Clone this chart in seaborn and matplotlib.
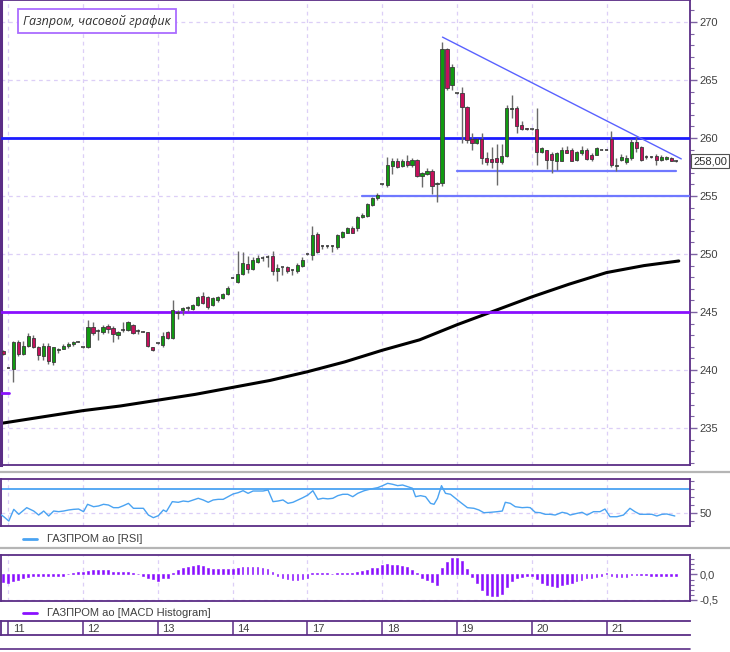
import numpy as np
import pandas as pd
import matplotlib
matplotlib.use("Agg")
import matplotlib.pyplot as plt
from matplotlib.lines import Line2D
from matplotlib.ticker import MultipleLocator, FixedLocator
import seaborn as sns

# ---------------- data ----------------
first_bar = -1          # index of the first hourly bar (last bar of the previous day)
bars_per_day = 15
day_labels = ["11", "12", "13", "14", "17", "18", "19", "20", "21"]

opens = [241.6, 240.2, 240.1, 242.4, 241.4, 242.1, 242.8, 242.0, 241.2, 242.1, 240.65, 241.7, 241.8, 242.1, 242.2, 242.45,
         241.95, 242.0, 243.7, 243.3, 243.25, 243.8, 243.6, 243.0, 243.4, 243.45, 243.9, 243.3, 243.3, 243.3, 242.0,
         242.3, 242.15, 243.3, 242.75, 245.0, 245.15, 245.3, 245.25, 245.6, 246.4, 246.3, 245.6, 246.0, 246.2, 246.55,
         247.95, 247.6, 248.3, 249.1, 248.75, 249.35, 249.6, 249.7, 249.8, 248.5, 248.8, 248.9, 248.55, 248.5, 248.95,
         249.97, 249.9, 251.7, 250.6, 250.65, 250.65, 250.6, 251.5, 251.85, 252.25, 252.25, 253.15, 253.3, 254.2, 254.8,
         256.0, 255.95, 257.6, 258.0, 257.55, 258.0, 257.7, 258.1, 256.7, 256.9, 257.2, 256.0, 256.1, 267.7, 264.55,
         263.85, 263.85, 262.7, 259.9, 259.55, 259.95, 258.25, 258.15, 258.25, 257.9, 258.45, 262.5, 262.55, 261.1, 260.85,
         260.75, 260.75, 258.8, 258.95, 258.6, 258.05, 258.05, 259.0, 258.95, 258.1, 258.7, 258.95, 258.55, 258.55, 259.0,
         259.0, 259.95, 257.6, 258.1, 257.9, 258.25, 259.7, 259.2, 258.35, 258.35, 258.45, 258.1, 258.15, 258.3, 258.0]
highs = [241.7, 240.25, 242.5, 242.6, 242.5, 243.2, 243.0, 242.1, 242.3, 242.3, 242.0, 241.9, 242.2, 242.4, 242.5, 242.5,
         242.0, 244.3, 244.1, 243.5, 243.9, 244.0, 243.8, 243.4, 244.1, 244.2, 244.0, 243.5, 243.35, 243.3, 242.0,
         242.35, 243.3, 243.4, 246.0, 245.2, 245.45, 245.5, 245.7, 246.4, 246.75, 246.4, 246.3, 246.4, 246.6, 247.2,
         248.0, 250.3, 250.2, 249.8, 249.7, 249.9, 249.8, 249.9, 250.3, 249.1, 248.9, 249.0, 248.7, 249.2, 249.7,
         250.0, 252.4, 251.9, 250.8, 250.8, 250.75, 251.7, 252.0, 252.3, 252.4, 253.3, 253.5, 254.4, 254.9, 255.3,
         256.05, 258.4, 258.3, 258.3, 258.2, 258.5, 258.3, 258.2, 257.1, 257.4, 257.3, 256.2, 268.3, 267.8, 266.4,
         263.9, 264.4, 262.8, 260.4, 260.0, 260.45, 258.8, 259.25, 259.5, 259.5, 262.85, 263.7, 262.8, 261.5, 260.9,
         260.8, 262.6, 259.2, 259.0, 258.8, 258.8, 259.2, 259.3, 259.1, 258.9, 259.35, 259.1, 258.7, 259.2, 259.05,
         259.05, 260.6, 258.3, 258.6, 258.5, 259.9, 260.1, 259.3, 258.5, 258.45, 258.6, 258.5, 258.45, 258.4, 258.1]
lows = [241.3, 240.15, 239.0, 241.2, 241.3, 242.0, 241.9, 240.9, 240.9, 240.5, 240.4, 241.5, 241.8, 241.9, 242.1, 242.4,
        241.9, 241.9, 243.0, 242.6, 243.1, 243.2, 242.4, 242.7, 243.3, 243.4, 243.1, 243.1, 243.25, 242.0, 241.6,
        242.25, 242.0, 242.7, 242.7, 244.4, 244.7, 245.1, 245.2, 245.5, 245.7, 245.3, 245.5, 245.9, 246.1, 246.5,
        247.9, 247.5, 248.2, 248.4, 248.6, 249.2, 249.4, 248.85, 248.2, 247.7, 248.2, 248.4, 248.2, 248.4, 248.9,
        249.9, 249.5, 250.1, 250.4, 250.5, 250.2, 250.4, 251.4, 251.8, 251.8, 252.0, 253.1, 253.2, 254.1, 254.7,
        255.95, 255.8, 256.9, 257.4, 257.5, 257.5, 257.5, 256.6, 255.8, 256.8, 255.2, 254.5, 255.9, 264.1, 264.1,
        263.8, 259.55, 259.6, 258.95, 259.5, 257.8, 257.7, 257.4, 255.95, 257.8, 258.4, 261.7, 260.4, 260.7, 260.7,
        260.7, 257.7, 258.7, 257.3, 256.95, 257.25, 258.0, 258.7, 258.0, 258.0, 258.5, 258.1, 258.0, 258.5, 258.95,
        258.95, 257.5, 257.2, 258.0, 257.8, 258.1, 258.8, 258.0, 258.2, 258.25, 257.65, 258.0, 258.1, 258.0, 257.95]
closes = [241.4, 240.2, 242.4, 241.4, 242.1, 242.9, 242.0, 241.3, 242.1, 240.75, 242.0, 241.8, 242.1, 242.2, 242.4, 242.45,
          241.95, 243.7, 243.2, 243.35, 243.7, 243.5, 243.1, 243.3, 243.45, 244.1, 243.2, 243.35, 243.3, 242.1, 241.75,
          242.3, 242.9, 242.75, 245.2, 244.9, 245.35, 245.35, 245.6, 246.3, 245.75, 245.45, 246.2, 246.3, 246.55, 247.1,
          247.95, 248.3, 249.2, 248.75, 249.5, 249.65, 249.65, 249.75, 248.5, 248.8, 248.85, 248.5, 248.6, 249.05, 249.5,
          249.97, 251.6, 250.2, 250.65, 250.7, 250.7, 251.6, 251.9, 252.2, 251.85, 253.2, 253.4, 254.3, 254.85, 255.1,
          256.0, 257.7, 258.0, 257.5, 258.0, 257.7, 258.1, 256.7, 257.0, 257.2, 255.9, 256.1, 267.7, 264.3, 266.15,
          263.85, 262.65, 259.8, 259.55, 259.9, 258.25, 257.9, 257.9, 257.9, 258.45, 262.55, 262.6, 261.05, 260.8, 260.75,
          260.75, 258.8, 259.1, 258.1, 258.1, 258.7, 259.0, 258.75, 258.05, 258.8, 259.0, 258.15, 258.15, 259.15, 259.0,
          259.0, 257.65, 257.7, 258.4, 258.3, 259.7, 259.1, 258.1, 258.4, 258.4, 258.1, 258.4, 258.35, 258.05, 258.0]

# long moving average (black line), read at bar positions
sma_idx = [-1.46, 7.5, 15, 22.5, 30, 37.5, 45, 52.5, 60, 67.5, 75, 82.5, 90, 97.5, 105, 112.5, 120, 127.5, 134.5]
sma_val = [235.4, 236.0, 236.5, 236.9, 237.4, 237.9, 238.5, 239.1, 239.85, 240.7, 241.7, 242.6, 243.9, 245.1, 246.3,
           247.4, 248.4, 249.0, 249.4]

# RSI line vertices (bar position, value)
rsi_idx = [-1.6, -0.9, 0.1, 1.1, 2.1, 3.7, 5.1, 6.1, 7.1, 8.1, 9.1, 10.1, 11.1, 12.1, 13.1, 14.1, 15.1, 15.9, 17.1,
           18.1, 19.1, 20.1, 21.1, 22.1, 23.1, 24.1, 25.1, 26.1, 27.1, 28.1, 29.1, 30.1, 31.1, 31.7, 32.9, 34.1, 35.1,
           36.1, 37.1, 38.1, 39.1, 40.1, 41.1, 42.1, 43.1, 44.1, 45.1, 46.1, 47.1, 48.1, 49.1, 50.1, 51.1, 52.1, 53.1,
           54.1, 55.1, 56.1, 57.1, 58.1, 59.1, 60.1, 61.1, 62.1, 63.1, 64.1, 65.1, 66.1, 67.1, 68.1, 69.1, 70.1, 71.4,
           72.7, 74.1, 75.1, 76.1, 77.1, 78.1, 79.1, 80.1, 81.1, 81.7, 82.7, 83.7, 84.7, 85.4, 86.1, 86.9, 87.7, 88.7,
           89.7, 90.7, 92.1, 93.4, 94.4, 95.4, 96.7, 98.1, 99.1, 99.7, 100.7, 101.7, 103.1, 104.1, 104.7, 105.7, 106.7,
           107.7, 108.7, 109.7, 111.1, 112.1, 112.7, 114.1, 115.1, 116.1, 117.4, 118.7, 119.7, 120.7, 122.1, 123.4,
           124.7, 125.7, 126.7, 128.1, 129.1, 130.1, 131.1, 132.1, 133.7]
rsi_val = [48.0, 45.0, 39.6, 54.2, 48.0, 56.3, 52.1, 47.1, 52.1, 45.9, 52.1, 51.3, 52.1, 53.4, 54.2, 54.6, 51.3, 60.5, 57.5,
           58.4, 60.5, 59.6, 56.3, 56.3, 58.8, 61.7, 55.5, 55.5, 55.5, 47.1, 43.8, 46.3, 53.4, 51.3, 63.8, 63.0, 64.6,
           63.8, 65.9, 68.0, 65.9, 63.0, 65.9, 66.7, 66.7, 70.0, 73.4, 75.0, 77.5, 74.2, 77.1, 77.1, 77.1, 78.4, 63.8,
           64.6, 65.9, 61.7, 63.0, 65.9, 68.8, 72.1, 77.5, 66.7, 68.0, 67.3, 68.0, 71.3, 73.0, 73.0, 70.0, 74.2, 77.5,
           79.6, 81.3, 83.8, 86.7, 85.5, 83.8, 84.6, 82.5, 80.5, 70.0, 71.3, 70.0, 61.7, 60.5, 68.0, 83.8, 74.2, 73.0,
           68.0, 63.0, 56.3, 55.5, 53.4, 50.0, 50.5, 51.3, 52.1, 63.0, 61.7, 57.5, 56.3, 56.7, 56.3, 50.5, 50.0,
           48.0, 48.0, 47.1, 50.5, 49.2, 47.1, 49.2, 50.5, 47.1, 51.3, 51.3, 54.6, 45.0, 45.0, 47.1,
           55.5, 51.3, 48.0, 48.0, 48.0, 45.9, 48.0, 48.4, 45.9]
rsi_level = 80

# MACD histogram, one value per bar
macd_hist = [-0.14, -0.17, -0.12, -0.10, -0.07, -0.04, -0.03, -0.03, -0.03, -0.03, -0.03, -0.02, -0.02, 0.01, 0.03, 0.04,
             0.04, 0.07, 0.09, 0.09, 0.09, 0.08, 0.05, 0.04, 0.04, 0.04, 0.02, 0.01, -0.03, -0.06, -0.08,
             -0.12, -0.07, -0.06, 0.02, 0.08, 0.12, 0.15, 0.16, 0.18, 0.16, 0.13, 0.10, 0.10, 0.10, 0.10,
             0.10, 0.13, 0.15, 0.15, 0.15, 0.15, 0.13, 0.10, 0.05, -0.03, -0.06, -0.09, -0.11, -0.10, -0.09,
             -0.06, 0.02, 0.02, 0.02, 0.02, 0.01, 0.02, 0.02, 0.03, 0.03, 0.04, 0.06, 0.09, 0.12, 0.12,
             0.18, 0.21, 0.19, 0.18, 0.16, 0.14, 0.08, 0.02, -0.07, -0.10, -0.15, -0.20, 0.12, 0.24, 0.32,
             0.32, 0.26, 0.10, -0.05, -0.17, -0.30, -0.40, -0.42, -0.42, -0.38, -0.24, -0.12, -0.07, -0.04, -0.02,
             -0.03, -0.09, -0.17, -0.20, -0.22, -0.24, -0.20, -0.18, -0.17, -0.12, -0.10, -0.07, -0.06, -0.04, -0.02,
             0.02, -0.03, -0.04, -0.04, -0.04, -0.01, -0.01, -0.01, -0.01, -0.02, -0.02, -0.02, -0.02, -0.02, -0.03]

# drawn levels / trend lines (price values and bar positions)
level_resist = 260.0
level_support = 245.0
level_255 = 255.0
level_255_start = 70.9
level_low = 257.2
level_low_span = [90.0, 133.9]
trend_idx = [87.1, 135.0]
trend_val = [268.7, 258.2]
marker_val = 238.0
marker_span = [-1.46, 0.2]

title_text = "Газпром, часовой график"
rsi_legend = "ГАЗПРОМ ао [RSI]"
macd_legend = "ГАЗПРОМ ао [MACD Histogram]"

# ---------------- styling ----------------
sns.set_style("white")
plt.rcParams["font.family"] = ["Liberation Sans", "DejaVu Sans"]

W, H = 730, 652
fig = plt.figure(figsize=(W / 100, H / 100), dpi=100)
fig.patch.set_facecolor("white")


def rect(x0, y0, x1, y1):
    return [x0 / W, 1 - y1 / H, (x1 - x0) / W, (y1 - y0) / H]


SPINE = "#5b2d86"
GRID = "#dccff7"
TXT = "#404040"
GREEN = "#119a11"
RED = "#c4105c"
VIOLET = "#8a10ff"
RSI_C = "#4aa3f2"

ax = fig.add_axes(rect(1, 0, 690, 465))
ax_rsi = fig.add_axes(rect(1, 479, 690, 526))
ax_macd = fig.add_axes(rect(1, 555, 690, 601))
ax_x = fig.add_axes(rect(1, 621, 690, 635))

n = len(closes)
xi = np.arange(first_bar, first_bar + n)
xmin, xmax = -1.464, 136.75
day_pos = [k * bars_per_day for k in range(len(day_labels))]

for a in (ax, ax_rsi, ax_macd, ax_x):
    a.set_xlim(xmin, xmax)
    a.set_facecolor("white")
    for s in a.spines.values():
        s.set_color(SPINE)
        s.set_linewidth(1.3)
    a.set_xticks([])
ax.spines["left"].set_linewidth(2.2)

# ---------------- main price panel ----------------
ax.set_ylim(231.81, 271.90)
for d in day_pos:
    for a in (ax, ax_rsi, ax_macd):
        a.axvline(d, color=GRID, lw=0.9, ls=(0, (3, 3)), zorder=0)
for lv in range(235, 271, 5):
    ax.axhline(lv, color=GRID, lw=0.9, ls=(0, (3, 3)), zorder=0)

df = pd.DataFrame({"x": xi, "o": opens, "h": highs, "l": lows, "c": closes})
sns.lineplot(x=sma_idx, y=sma_val, ax=ax, color="black", lw=2.2, estimator=None, zorder=2)

ax.axhline(level_resist, color="#1c1cff", lw=2.0, zorder=3)
ax.axhline(level_support, color=VIOLET, lw=2.0, zorder=3)
ax.plot([level_255_start, xmax - 0.3], [level_255, level_255], color="#6f78ff", lw=1.6, zorder=3)
ax.plot(level_low_span, [level_low, level_low], color="#6f78ff", lw=1.6, zorder=3)
ax.plot(trend_idx, trend_val, color="#5a62ff", lw=1.0, zorder=3)
ax.plot(marker_span, [marker_val, marker_val], color=VIOLET, lw=2.0, zorder=3)

ax.vlines(df["x"], df["l"], df["h"], color="#6a6a6a", lw=1.0, zorder=4)
body_lo = np.minimum(df["o"], df["c"])
body_h = np.abs(df["c"] - df["o"])
up = df["c"] >= df["o"]
big = body_h >= 0.06
colors = np.where(up, GREEN, RED)
ax.bar(df["x"][big], body_h[big], bottom=body_lo[big], width=0.64, color=colors[big],
       edgecolor="#3a3a3a", linewidth=0.6, zorder=5)
small = ~big
ax.hlines(df["c"][small], df["x"][small] - 0.36, df["x"][small] + 0.36, color="#303030", lw=1.1, zorder=5)

ax.yaxis.tick_right()
ax.yaxis.set_major_locator(MultipleLocator(5))
ax.yaxis.set_minor_locator(MultipleLocator(1))
ax.tick_params(axis="y", which="major", length=5, width=1, color="#7d62a3", labelsize=8, labelcolor=TXT, pad=2)
ax.tick_params(axis="y", which="minor", length=3, width=0.8, color="#7d62a3")
ax.set_ylabel("")
ax.set_xlabel("")

last = closes[-1]
ax.text(1.0045, last, f"{last:.2f}".replace(".", ","), transform=ax.get_yaxis_transform(),
        ha="left", va="center", fontsize=8, color="#303030", clip_on=False, zorder=10,
        bbox=dict(boxstyle="square,pad=0.18", fc="white", ec="#505050", lw=0.8))

fig.text(23 / W, 1 - 21 / H, title_text, fontsize=9, style="italic", color="#333333",
         family=["Open Sans", "DejaVu Sans"], ha="left", va="center",
         bbox=dict(boxstyle="square,pad=0.42", fc="white", ec="#aa6cff", lw=1.3))

# ---------------- RSI panel ----------------
ax_rsi.set_ylim(33.4, 92.1)
ax_rsi.axhline(50, color=GRID, lw=0.9, ls=(0, (3, 3)), zorder=0)
ax_rsi.axhline(rsi_level, color=RSI_C, lw=1.3, zorder=2)
sns.lineplot(x=rsi_idx, y=rsi_val, ax=ax_rsi, color=RSI_C, lw=1.0, estimator=None, zorder=3)
ax_rsi.yaxis.tick_right()
ax_rsi.yaxis.set_major_locator(FixedLocator([50]))
ax_rsi.yaxis.set_minor_locator(FixedLocator([40, 60, 70, 80, 90]))
ax_rsi.tick_params(axis="y", which="major", length=5, width=1, color="#7d62a3", labelsize=8, labelcolor=TXT, pad=2)
ax_rsi.tick_params(axis="y", which="minor", length=3, width=0.8, color="#7d62a3")
ax_rsi.set_ylabel("")
ax_rsi.set_xlabel("")

# ---------------- MACD panel ----------------
ax_macd.set_ylim(-0.52, 0.382)
ax_macd.axhline(-0.5, color=GRID, lw=0.9, ls=(0, (3, 3)), zorder=0)
ax_macd.bar(xi, macd_hist, width=0.36, color=VIOLET, edgecolor=VIOLET, linewidth=0.4, zorder=3)
ax_macd.yaxis.tick_right()
ax_macd.yaxis.set_major_locator(FixedLocator([-0.5, 0.0]))
ax_macd.yaxis.set_minor_locator(MultipleLocator(0.1))
ax_macd.set_yticklabels(["-0,5", "0,0"])
ax_macd.tick_params(axis="y", which="major", length=5, width=1, color="#7d62a3", labelsize=8, labelcolor=TXT, pad=2)
ax_macd.tick_params(axis="y", which="minor", length=3, width=0.8, color="#7d62a3")

# ---------------- x strip ----------------
ax_x.set_ylim(0, 1)
ax_x.set_yticks([])
ax_x.spines["right"].set_visible(False)
ax_x.vlines(day_pos, 0, 1, color=SPINE, lw=1.1)
for d, lab in zip(day_pos, day_labels):
    ax_x.text(d + 0.9, 0.45, lab, ha="left", va="center", fontsize=8, color=TXT)

# ---------------- legends & separators ----------------
fig.add_artist(Line2D([23 / W, 37 / W], [1 - 539 / H] * 2, color=RSI_C, lw=2, transform=fig.transFigure))
fig.text(47 / W, 1 - 539 / H, rsi_legend, fontsize=8, color=TXT, ha="left", va="center")
fig.add_artist(Line2D([23 / W, 37 / W], [1 - 612.5 / H] * 2, color=VIOLET, lw=2, transform=fig.transFigure))
fig.text(47 / W, 1 - 612.5 / H, macd_legend, fontsize=8, color=TXT, ha="left", va="center")

for yy in (472, 548):
    fig.add_artist(Line2D([0, 1], [1 - yy / H] * 2, color="#b5b5b5", lw=1.6, transform=fig.transFigure))
fig.add_artist(Line2D([0, 690 / W], [1 - 649 / H] * 2, color=SPINE, lw=1.2, transform=fig.transFigure))

fig.savefig("out.png", dpi=100, facecolor="white")
